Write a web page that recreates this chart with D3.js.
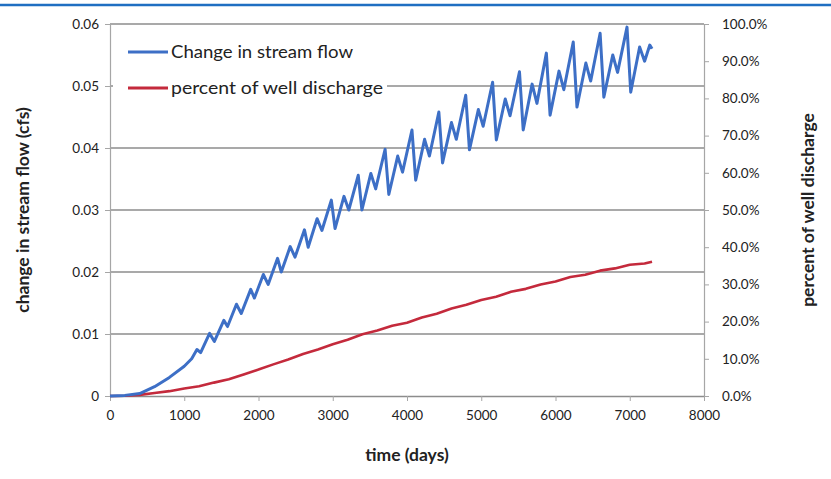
<!DOCTYPE html>
<html>
<head>
<meta charset="utf-8">
<script src="https://cdn.jsdelivr.net/npm/d3@7"></script>
<style>
  body { margin: 0; background: #fff; }
  text { font-family: Lato, "Open Sans", sans-serif; fill: #222; }
</style>
</head>
<body>
<svg id="chart" width="831" height="479"></svg>
<script>
// stream flow change (cfs), [day, value]
const streamFlow = [
  [0, 0], [200, 0.0001], [400, 0.0004], [600, 0.0015], [800, 0.003], [1000, 0.0048], [1100, 0.006],
  [1171, 0.0075], [1221, 0.0070], [1341, 0.0101], [1406, 0.0088],
  [1533, 0.0122], [1583, 0.0112], [1703, 0.0148], [1768, 0.0133],
  [1895, 0.0172], [1945, 0.0158], [2065, 0.0196], [2130, 0.0180],
  [2257, 0.0222], [2307, 0.0200], [2427, 0.0241], [2492, 0.0224],
  [2619, 0.0268], [2669, 0.0240], [2789, 0.0286], [2854, 0.0267],
  [2981, 0.0316], [3031, 0.0270], [3151, 0.0322], [3216, 0.0300],
  [3343, 0.0356], [3393, 0.0300], [3513, 0.0359], [3578, 0.0334],
  [3705, 0.0398], [3755, 0.0325], [3875, 0.0387], [3940, 0.0361],
  [4067, 0.0429], [4117, 0.0348], [4237, 0.0414], [4302, 0.0387],
  [4429, 0.0458], [4479, 0.0376], [4599, 0.0441], [4664, 0.0414],
  [4791, 0.0485], [4841, 0.0397], [4961, 0.0462], [5026, 0.0435],
  [5153, 0.0506], [5203, 0.0413], [5323, 0.0479], [5388, 0.0452],
  [5515, 0.0523], [5565, 0.0429], [5685, 0.0503], [5750, 0.0472],
  [5877, 0.0553], [5927, 0.0453], [6047, 0.0524], [6112, 0.0494],
  [6239, 0.0571], [6289, 0.0466], [6409, 0.0537], [6474, 0.0508],
  [6601, 0.0585], [6651, 0.0482], [6771, 0.055], [6836, 0.0522],
  [6963, 0.0595], [7013, 0.049], [7133, 0.0563], [7200, 0.054], [7270, 0.0566], [7300, 0.056]
];

// percent of well discharge, [day, percent]
const percentDischarge = [
  [0, 0], [200, 0.05], [400, 0.3], [600, 0.8], [800, 1.3], [1000, 2.0], [1200, 2.6], [1400, 3.6],
  [1600, 4.5], [1800, 5.8], [2000, 7.1], [2200, 8.5], [2400, 9.8], [2600, 11.3], [2800, 12.5],
  [3000, 13.9], [3200, 15.1], [3400, 16.6], [3600, 17.6], [3800, 18.9], [4000, 19.7], [4200, 21.1],
  [4400, 22.1], [4600, 23.5], [4800, 24.5], [5000, 25.8], [5200, 26.7], [5400, 28.0], [5600, 28.8],
  [5800, 30.0], [6000, 30.8], [6200, 32.0], [6400, 32.6], [6600, 33.7], [6800, 34.3], [7000, 35.3],
  [7200, 35.6], [7300, 36.1]
];

const xTicks = [0, 1000, 2000, 3000, 4000, 5000, 6000, 7000, 8000];
const leftTicks = [0, 0.01, 0.02, 0.03, 0.04, 0.05, 0.06];
const leftTickLabels = ["0", "0.01", "0.02", "0.03", "0.04", "0.05", "0.06"];
const rightTicks = [0, 10, 20, 30, 40, 50, 60, 70, 80, 90, 100];

const svg = d3.select("#chart");
const pLeft = 110, pRight = 704, pTop = 24, pBottom = 396;

const x = d3.scaleLinear().domain([0, 8000]).range([pLeft, pRight]);
const yL = d3.scaleLinear().domain([0, 0.06]).range([pBottom, pTop]);
const yR = d3.scaleLinear().domain([0, 100]).range([pBottom, pTop]);

// blue rule at top
svg.append("line")
  .attr("x1", 0).attr("x2", 831).attr("y1", 5).attr("y2", 5)
  .attr("stroke", "#1f6fc2").attr("stroke-width", 2.5);

// gridlines
svg.append("g").selectAll("line")
  .data(leftTicks.slice(1))
  .enter().append("line")
    .attr("x1", pLeft).attr("x2", pRight)
    .attr("y1", d => yL(d)).attr("y2", d => yL(d))
    .attr("stroke", "#8c8c8c").attr("stroke-width", 1.6);

// axes
const axisStyle = g => {
  g.selectAll(".domain").attr("stroke", "#a6a6a6").attr("stroke-width", 1.2);
  g.selectAll(".tick line").attr("stroke", "#a6a6a6");
  g.selectAll(".tick text").style("font-size", "13.5px").attr("fill", "#222");
};

svg.append("g")
  .attr("transform", `translate(${pLeft},0)`)
  .call(d3.axisLeft(yL).tickValues(leftTicks).tickFormat((d, i) => leftTickLabels[i]).tickSize(5).tickSizeOuter(0).tickPadding(6))
  .call(axisStyle);

svg.append("g")
  .attr("transform", `translate(${pRight},0)`)
  .call(d3.axisRight(yR).tickValues(rightTicks).tickFormat(d => d.toFixed(1) + "%").tickSize(5).tickSizeOuter(0).tickPadding(13))
  .call(axisStyle);

svg.append("g")
  .attr("transform", `translate(0,${pBottom})`)
  .call(d3.axisBottom(x).tickValues(xTicks).tickFormat(d3.format("d")).tickSize(5).tickSizeOuter(0).tickPadding(9))
  .call(axisStyle)
  .call(g => g.select(".domain").attr("stroke", "#8c8c8c").attr("stroke-width", 1.6));

// lines
const lineL = d3.line().x(d => x(d[0])).y(d => yL(d[1]));
const lineR = d3.line().x(d => x(d[0])).y(d => yR(d[1]));

svg.append("path")
  .datum(percentDischarge)
  .attr("d", lineR)
  .attr("fill", "none")
  .attr("stroke", "#c42a3c")
  .attr("stroke-width", 2.6)
  .attr("stroke-linejoin", "round");

svg.append("path")
  .datum(streamFlow)
  .attr("d", lineL)
  .attr("fill", "none")
  .attr("stroke", "#3d6fc6")
  .attr("stroke-width", 3)
  .attr("stroke-linejoin", "round");

// legend
const legend = svg.append("g");
legend.append("rect")
  .attr("x", 113).attr("y", 36).attr("width", 274).attr("height", 64)
  .attr("fill", "#fff");
const legendItems = [
  {name: "Change in stream flow", color: "#3d6fc6", y: 52, w: 182},
  {name: "percent of well discharge", color: "#c42a3c", y: 88, w: 212}
];
legendItems.forEach(d => {
  legend.append("line")
    .attr("x1", 128).attr("x2", 168).attr("y1", d.y).attr("y2", d.y)
    .attr("stroke", d.color).attr("stroke-width", 3);
  legend.append("text")
    .attr("x", 171).attr("y", d.y).attr("dy", "0.35em")
    .attr("textLength", d.w).attr("lengthAdjust", "spacingAndGlyphs")
    .style("font-size", "17px")
    .text(d.name);
});

// axis titles
svg.append("text")
  .attr("transform", `translate(23,${(pTop + pBottom) / 2}) rotate(-90)`)
  .attr("text-anchor", "middle").attr("dy", "0.35em")
  .style("font-size", "17.5px").style("font-weight", "bold")
  .text("change in stream flow (cfs)");

svg.append("text")
  .attr("transform", `translate(808,${(pTop + pBottom) / 2}) rotate(-90)`)
  .attr("text-anchor", "middle").attr("dy", "0.35em")
  .style("font-size", "17.5px").style("font-weight", "bold")
  .text("percent of well discharge");

svg.append("text")
  .attr("x", (pLeft + pRight) / 2).attr("y", 455).attr("dy", "0.35em")
  .attr("text-anchor", "middle")
  .style("font-size", "17.5px").style("font-weight", "bold")
  .text("time (days)");
</script>
</body>
</html>
